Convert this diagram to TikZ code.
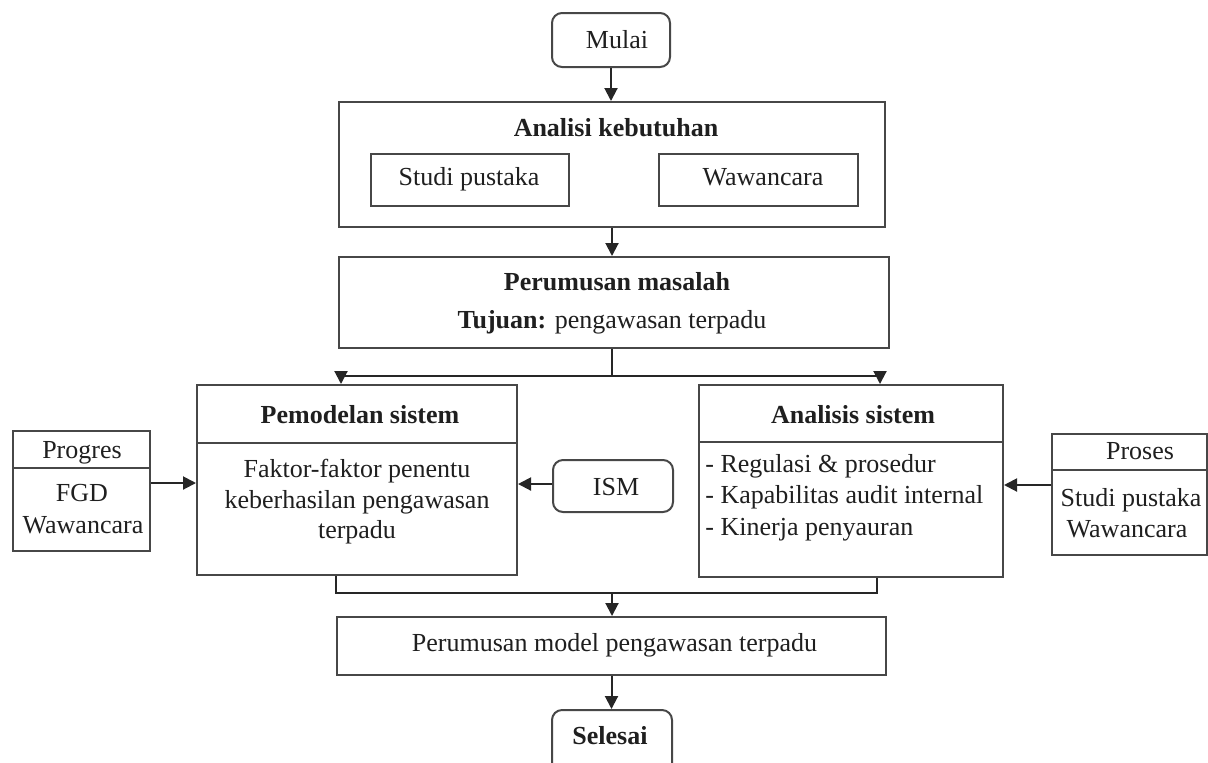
\documentclass[tikz,border=0pt]{standalone}
\usepackage{fontspec}
\setmainfont{Liberation Serif}
\usetikzlibrary{arrows.meta,calc}
\begin{document}
\begin{tikzpicture}[x=0.5pt,y=-0.5pt,
  box/.style={draw=black!72, line width=1pt, fill=white, inner sep=0pt},
  rbox/.style={box, rounded corners=5pt},
  divline/.style={draw=black!72, line width=1pt},
  txt/.style={inner sep=0pt, font=\fontsize{13}{15}\selectfont, text=black!88},
  btxt/.style={txt, font=\fontsize{13}{15}\selectfont\bfseries},
  conn/.style={draw=black!85, line width=1pt},
  arr/.style={conn, -{Triangle[length=6.5pt,width=6.5pt]}},
]
\useasboundingbox (0,0) rectangle (1208,762);

% Mulai
\node[rbox, minimum width=59pt, minimum height=27pt] (mulai) at (611,40) {};
\node[txt, anchor=base] (tmulai) at (617,48) {Mulai};

% Analisi kebutuhan
\node[box, minimum width=273pt, minimum height=62.5pt] (anak) at (612,164.5) {};
\node[btxt, anchor=base] (tanak) at (616,136) {Analisi kebutuhan};
\node[box, minimum width=99pt, minimum height=26pt] (studi) at (470,180) {};
\node[txt, anchor=base] (tstudi) at (469,185) {Studi pustaka};
\node[box, minimum width=99.5pt, minimum height=26pt] (waw) at (758.5,180) {};
\node[txt, anchor=base] (twaw) at (763,185) {Wawancara};

% Perumusan masalah
\node[box, minimum width=275pt, minimum height=45.5pt] (perum) at (614,302.5) {};
\node[btxt, anchor=base] (tperum1) at (617,290) {Perumusan masalah};
\node[txt, anchor=base] (tperum2) at (612,328) {\textbf{Tujuan:} pengawasan terpadu};

% Pemodelan sistem
\node[box, minimum width=160pt, minimum height=95pt] (pemod) at (357,480) {};
\coordinate (pemdiv) at (0,443);
\draw[divline] (pemod.west |- pemdiv) -- (pemod.east |- pemdiv);
\node[btxt, anchor=base] (tpemod) at (360,423) {Pemodelan sistem};
\node[txt, anchor=base] (tpem1) at (357,477) {Faktor-faktor penentu};
\node[txt, anchor=base] (tpem2) at (357,508) {keberhasilan pengawasan};
\node[txt, anchor=base] (tpem3) at (357,538) {terpadu};

% Analisis sistem
\node[box, minimum width=152pt, minimum height=96pt] (anal) at (851,481) {};
\coordinate (andiv) at (0,442);
\draw[divline] (anal.west |- andiv) -- (anal.east |- andiv);
\node[btxt, anchor=base] (tanal) at (853,423) {Analisis sistem};
\node[txt, anchor=base west] (tan1) at (705,472) {- Regulasi \& prosedur};
\node[txt, anchor=base west] (tan2) at (705,503) {- Kapabilitas audit internal};
\node[txt, anchor=base west] (tan3) at (705,535) {- Kinerja penyauran};

% Progres
\node[box, minimum width=68.5pt, minimum height=60pt] (prog) at (81.5,491) {};
\coordinate (progdiv) at (0,468);
\draw[divline] (prog.west |- progdiv) -- (prog.east |- progdiv);
\node[txt, anchor=base] (tprog) at (82,458) {Progres};
\node[txt, anchor=base] (tprog1) at (82,501) {FGD};
\node[txt, anchor=base] (tprog2) at (83,533) {Wawancara};

% Proses
\node[box, minimum width=77.5pt, minimum height=60.5pt] (pros) at (1129.5,494.5) {};
\coordinate (prosdiv) at (0,470);
\draw[divline] (pros.west |- prosdiv) -- (pros.east |- prosdiv);
\node[txt, anchor=base] (tpros) at (1140,459) {Proses};
\node[txt, anchor=base] (tpros1) at (1131,506) {Studi pustaka};
\node[txt, anchor=base] (tpros2) at (1127,537) {Wawancara};

% ISM
\node[rbox, minimum width=60pt, minimum height=26pt] (ism) at (613,486) {};
\node[txt, anchor=base] (tism) at (616,495) {ISM};

% Perumusan model
\node[box, minimum width=274.5pt, minimum height=29pt] (pmodel) at (611.5,646) {};
\node[txt, anchor=base] (tpmodel) at (614.5,651) {Perumusan model pengawasan terpadu};

% Selesai
\node[rbox, minimum width=60pt, minimum height=32pt] (sel) at (612,742) {};
\node[btxt, anchor=base] (tsel) at (610,744) {Selesai};

% connectors
\draw[arr] (mulai.south) -- (mulai.south |- anak.north);
\draw[arr] (anak.south) -- (anak.south |- perum.north);
\coordinate (jn) at (612,376);
\draw[conn] (jn |- perum.south) -- (jn);
\draw[arr] (jn) -| ([xshift=-8pt]pemod.north);
\draw[arr] (jn) -| ([xshift=14.5pt]anal.north);

\coordinate (yP) at (0,483);
\draw[arr] (prog.east |- yP) -- (pemod.west |- yP);
\coordinate (yI) at (0,484);
\draw[arr] (ism.west |- yI) -- (pemod.east |- yI);
\coordinate (yQ) at (0,485);
\draw[arr] (pros.west |- yQ) -- (anal.east |- yQ);

\coordinate (bm) at (612,593);
\draw[conn] ([xshift=-10.5pt]pemod.south) |- (bm) -| ([xshift=13pt]anal.south);
\draw[arr] (bm) -- (bm |- pmodel.north);
\draw[arr] (pmodel.south) -- (pmodel.south |- sel.north);
\end{tikzpicture}
\end{document}
